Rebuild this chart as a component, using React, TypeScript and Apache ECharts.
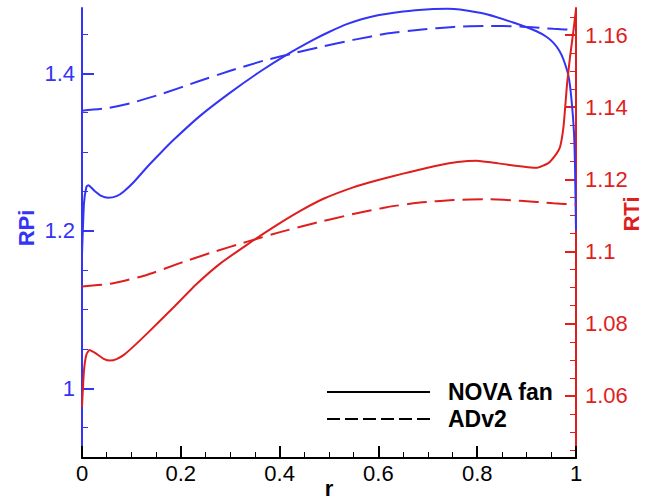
import React, { useEffect, useRef } from 'react';
import * as echarts from 'echarts';

// ---- data ----
const rNovaRPi = [0, 0.004, 0.009, 0.013, 0.025, 0.04, 0.053, 0.07, 0.084, 0.105, 0.131, 0.16, 0.185, 0.239, 0.3, 0.36, 0.414, 0.468, 0.5, 0.536, 0.59, 0.65, 0.704, 0.74, 0.765, 0.819, 0.873, 0.92, 0.94, 0.954, 0.966, 0.975, 0.985, 0.991, 0.996, 0.998, 1.0];
const novaRPi = [1.17, 1.235, 1.256, 1.258, 1.251, 1.244, 1.242, 1.244, 1.2497, 1.262, 1.2805, 1.2995, 1.3153, 1.346, 1.3755, 1.402, 1.4235, 1.4425, 1.4525, 1.4625, 1.4725, 1.4785, 1.4815, 1.482, 1.481, 1.475, 1.4645, 1.4535, 1.4465, 1.439, 1.429, 1.417, 1.396, 1.366, 1.324, 1.281, 1.2];

const rAdv2RPi = [0, 0.05, 0.098, 0.165, 0.233, 0.3, 0.367, 0.435, 0.49, 0.549, 0.617, 0.684, 0.752, 0.819, 0.887, 0.954, 1.0];
const adv2RPi = [1.3525, 1.3556, 1.362, 1.3746, 1.3893, 1.4033, 1.416, 1.4265, 1.4345, 1.4425, 1.4505, 1.4555, 1.459, 1.4603, 1.4595, 1.4565, 1.455];

const rNovaRTi = [0, 0.004, 0.009, 0.015, 0.03, 0.045, 0.057, 0.07, 0.084, 0.105, 0.131, 0.185, 0.232, 0.279, 0.333, 0.387, 0.441, 0.49, 0.549, 0.596, 0.65, 0.718, 0.76, 0.799, 0.83, 0.86, 0.92, 0.944, 0.961, 0.968, 0.975, 0.982, 0.988, 0.995, 1.0];
const novaRTi = [1.057, 1.067, 1.0715, 1.0727, 1.0716, 1.0702, 1.0698, 1.0702, 1.0713, 1.0738, 1.0772, 1.0845, 1.091, 1.0966, 1.1018, 1.1067, 1.1112, 1.1147, 1.1178, 1.1197, 1.1216, 1.1238, 1.1248, 1.1252, 1.1247, 1.1241, 1.1232, 1.1245, 1.1272, 1.1291, 1.135, 1.1466, 1.154, 1.1614, 1.1672];

const rAdv2RTi = [0, 0.063, 0.131, 0.198, 0.266, 0.333, 0.401, 0.468, 0.549, 0.617, 0.684, 0.752, 0.819, 0.887, 0.954, 1.0];
const adv2RTi = [1.0903, 1.0912, 1.0935, 1.0968, 1.0999, 1.1027, 1.1054, 1.1078, 1.1104, 1.1123, 1.1136, 1.1143, 1.1145, 1.1141, 1.1134, 1.113];

const rpiTicks = [1, 1.2, 1.4];
const rtiTicks = [1.06, 1.08, 1.1, 1.12, 1.14, 1.16];
const legendNames = ['NOVA fan', 'ADv2'];

const BLUE = '#3434f4';
const RED = '#df1e1e';
const FONT = '"Liberation Sans", Arial, Helvetica, sans-serif';

const pairs = (xs: number[], ys: number[]) => xs.map((x, i) => [x, ys[i]]);

export default function App() {
  const ref = useRef<HTMLDivElement>(null);
  useEffect(() => {
    const chart = echarts.init(ref.current!, null, { renderer: 'svg' });
    const lineSeries = (name: string, data: number[][], color: string, yIdx: number, dashed: boolean) => ({
      name,
      type: 'line',
      yAxisIndex: yIdx,
      data,
      showSymbol: false,
      symbol: 'none',
      smooth: 0.15,
      lineStyle: { color, width: 2, type: dashed ? [20, 8] : 'solid' },
      z: 1,
    });
    chart.setOption({
      animation: false,
      backgroundColor: '#ffffff',
      textStyle: { fontFamily: FONT },
      grid: { left: 82, right: 79, top: 8, bottom: 41, containLabel: false, outerBoundsMode: 'none' },
      xAxis: {
        type: 'value',
        min: 0,
        max: 1,
        interval: 0.2,
        name: 'r',
        nameLocation: 'middle',
        nameGap: 19,
        nameMoveOverlap: false,
        nameTextStyle: { color: '#000', fontSize: 22, fontWeight: 'bold', fontFamily: FONT },
        axisLine: { show: true, onZero: false, lineStyle: { color: '#000', width: 2 } },
        axisTick: { show: true, inside: true, length: 12, lineStyle: { color: '#000', width: 2 } },
        minorTick: { show: true, splitNumber: 4, length: 6, lineStyle: { color: '#000', width: 1 } },
        axisLabel: { color: '#000', fontSize: 22, fontFamily: FONT, margin: 4, formatter: (v: number) => String(+v.toFixed(2)) },
        splitLine: { show: false },
      },
      yAxis: [
        {
          type: 'value',
          position: 'left',
          min: 0.9115,
          max: 1.483,
          splitNumber: 3,
          axisLine: { show: true, onZero: false, lineStyle: { color: BLUE, width: 2 } },
          axisTick: { show: true, inside: true, length: 12, lineStyle: { color: BLUE, width: 2 }, customValues: rpiTicks },
          minorTick: { show: true, splitNumber: 4, length: 6, lineStyle: { color: BLUE, width: 1 } },
          axisLabel: { color: BLUE, fontSize: 22, fontFamily: FONT, margin: 7, customValues: rpiTicks, formatter: (v: number) => String(+v.toFixed(2)) },
          splitLine: { show: false },
        },
        {
          type: 'value',
          position: 'right',
          min: 1.0428,
          max: 1.1675,
          splitNumber: 6,
          axisLine: { show: true, onZero: false, lineStyle: { color: RED, width: 2 } },
          axisTick: { show: true, inside: true, length: 11, lineStyle: { color: RED, width: 2 }, customValues: rtiTicks },
          minorTick: { show: true, splitNumber: 4, length: 6, lineStyle: { color: RED, width: 1 } },
          axisLabel: { color: RED, fontSize: 22, fontFamily: FONT, margin: 9, customValues: rtiTicks, formatter: (v: number) => String(+v.toFixed(3)) },
          splitLine: { show: false },
        },
      ],
      series: [
        lineSeries('NOVA fan RPi', pairs(rNovaRPi, novaRPi), BLUE, 0, false),
        lineSeries('ADv2 RPi', pairs(rAdv2RPi, adv2RPi), BLUE, 0, true),
        lineSeries('NOVA fan RTi', pairs(rNovaRTi, novaRTi), RED, 1, false),
        lineSeries('ADv2 RTi', pairs(rAdv2RTi, adv2RTi), RED, 1, true),
      ],
      graphic: [
        { type: 'text', x: 26, y: 228, rotation: Math.PI / 2, style: { text: 'RPi', fill: BLUE, font: `bold 22px ${FONT}`, align: 'center', verticalAlign: 'middle' } },
        { type: 'text', x: 631, y: 214, rotation: Math.PI / 2, style: { text: 'RTi', fill: RED, font: `bold 22px ${FONT}`, align: 'center', verticalAlign: 'middle' } },
        { type: 'line', shape: { x1: 327, y1: 392, x2: 430, y2: 392 }, style: { stroke: '#000', lineWidth: 2 } },
        { type: 'line', shape: { x1: 327, y1: 419, x2: 430, y2: 419 }, style: { stroke: '#000', lineWidth: 2, lineDash: [13, 5] } },
        { type: 'text', x: 448, y: 392, style: { text: legendNames[0], fill: '#000', font: `bold 23px ${FONT}`, align: 'left', verticalAlign: 'middle' } },
        { type: 'text', x: 448, y: 419, style: { text: legendNames[1], fill: '#000', font: `bold 23px ${FONT}`, align: 'left', verticalAlign: 'middle' } },
      ],
    });
    return () => chart.dispose();
  }, []);
  return <div ref={ref} style={{ position: 'fixed', left: 0, top: 0, width: 655, height: 499, background: '#fff' }} />;
}
